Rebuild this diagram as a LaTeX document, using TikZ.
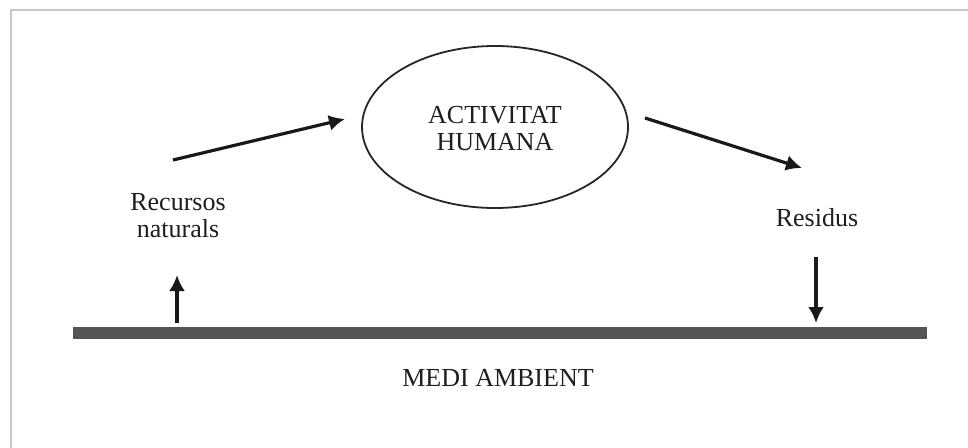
\documentclass[tikz,border=0pt]{standalone}
\usepackage{fontspec}
\setmainfont{Liberation Serif}
\usetikzlibrary{arrows.meta,shapes.geometric}
\definecolor{txtcol}{HTML}{1E1E1E}
\definecolor{barcol}{HTML}{555555}
\definecolor{framecol}{HTML}{C8C8C8}
\tikzset{
  lbl/.style={inner sep=0pt, text=txtcol, align=center, font=\fontsize{26}{27}\selectfont},
  arr/.style={line width=3.2pt, draw=black!90, -{Latex[length=16pt,width=16pt]}},
  oval/.style={ellipse, draw=black!85, line width=1.8pt, minimum width=266pt, minimum height=162pt, inner sep=0pt},
}
\begin{document}
\begin{tikzpicture}[x=1pt,y=-1pt]
\useasboundingbox (0,0) rectangle (968,447);
\fill[white] (0,0) rectangle (968,447);
% frame (right and bottom edges lie outside the picture)
\draw[framecol, line width=2pt] (11,470) -- (11,10) -- (990,10);
% ellipse and its text
\node[oval] (act) at (495,127) {};
\node[lbl] (acttxt) at (495,128.5) {ACTIVITAT\\HUMANA};
% labels
\node[lbl] (rec) at (178,216) {Recursos\\naturals};
\node[lbl] (res) at (817,218) {Residus};
\node[lbl] (medi) at (498,378) {MEDI AMBIENT};
% ground bar
\node[fill=barcol, minimum width=854pt, minimum height=12pt, inner sep=0pt] (bar) at (500,333) {};
% arrow end points
\coordinate (a1s) at (173,160);
\coordinate (a1e) at (345,119);
\coordinate (a2s) at (645,118);
\coordinate (a2e) at (802,168);
\coordinate (upS) at (177,323);
\coordinate (upE) at (177,275);
\coordinate (dnS) at (816,257);
\coordinate (dnE) at (816,323);
% arrows
\draw[arr] (a1s) -- (a1e);
\draw[arr] (a2s) -- (a2e);
\draw[arr] (upS) -- (upE);
\draw[arr] (dnS) -- (dnE);
\end{tikzpicture}
\end{document}
